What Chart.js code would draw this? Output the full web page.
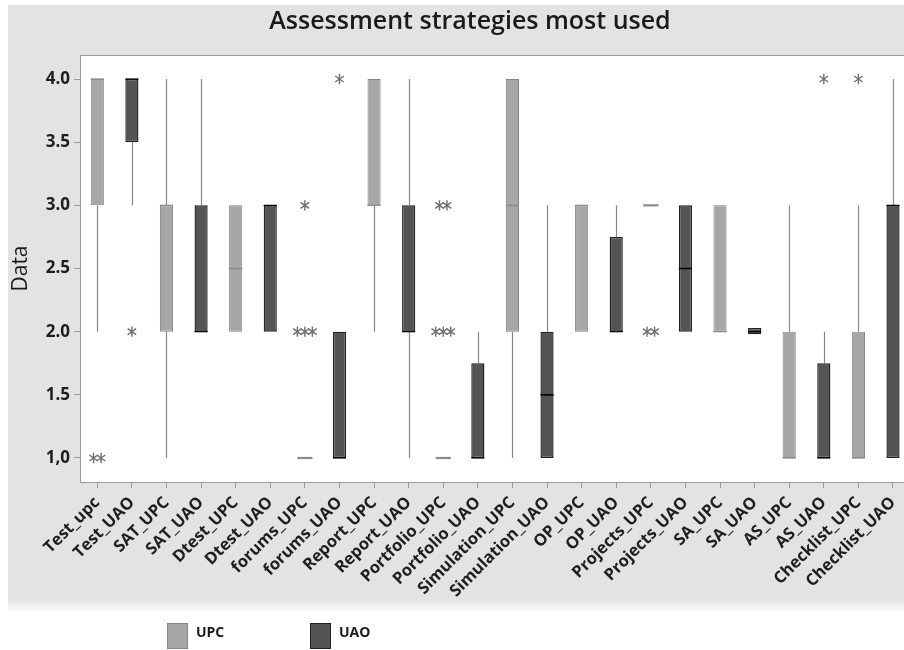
<!DOCTYPE html>
<html>
<head>
<meta charset="utf-8">
<title>Assessment strategies most used</title>
<script src="https://cdn.jsdelivr.net/npm/chart.js@4.4.0/dist/chart.umd.min.js"></script>
<style>
  html, body { margin: 0; padding: 0; background: #ffffff; overflow: hidden; }
  #wrap { position: relative; width: 912px; height: 650px; }
</style>
</head>
<body>
<div id="wrap"><canvas id="chart" width="912" height="650"></canvas></div>
<script>
// ---- data ----
const categories = [
  'Test_upc', 'Test_UAO', 'SAT_UPC', 'SAT_UAO', 'Dtest_UPC', 'Dtest_UAO',
  'forums_UPC', 'forums_UAO', 'Report_UPC', 'Report_UAO', 'Portfolio_UPC', 'Portfolio_UAO',
  'Simulation_UPC', 'Simulation_UAO', 'OP_UPC', 'OP_UAO', 'Projects_UPC', 'Projects_UAO',
  'SA_UPC', 'SA_UAO', 'AS_UPC', 'AS_UAO', 'Checklist_UPC', 'Checklist_UAO'
];
const groups = ['UPC', 'UAO'];

// quartiles, medians and whisker ends per category
const q1          = [3, 3.5, 2, 2, 2, 2, 1, 1, 3, 2, 1, 1, 2, 1, 2, 2, 3, 2, 2, 1.98, 1, 1, 1, 1];
const medians     = [4, 4,   3, 2, 2.5, 3, 1, 1, 3, 2, 1, 1, 3, 1.5, 3, 2, 3, 2.5, 2, 2, 1, 1, 1, 3];
const q3          = [4, 4,   3, 3, 3, 3, 1, 2, 4, 3, 1, 1.75, 4, 2, 3, 2.75, 3, 3, 3, 2.03, 2, 1.75, 2, 3];
const whiskerLow  = [2, 3,   1, 2, 2, 2, 1, 1, 2, 1, 1, 1, 1, 1, 2, 2, 3, 2, 2, 2, 1, 1, 1, 1];
const whiskerHigh = [4, 4,   4, 4, 3, 3, 1, 2, 4, 4, 1, 2, 4, 3, 3, 3, 3, 3, 3, 2, 3, 2, 3, 4];
const outliers    = [
  [1, 1], [2], [], [], [], [],
  [3, 2, 2, 2], [4], [], [], [3, 3, 2, 2, 2], [],
  [], [], [], [], [2, 2], [],
  [], [], [], [4], [4], []
];

const yTicks      = [1.0, 1.5, 2.0, 2.5, 3.0, 3.5, 4.0];
const yTickLabels = ['1,0', '1.5', '2.0', '2.5', '3.0', '3.5', '4.0'];

// ---- styling ----
const FONT = '"Open Sans", "Noto Sans", sans-serif';
const fills    = ['#a7a7a7', '#545454'];
const borders  = ['#858585', '#222222'];
const medianColors = ['#8a8a8a', '#000000'];
const groupOf = categories.map(c => c.toUpperCase().endsWith('UPC') ? 0 : 1);

const datasets = groups.map((g, gi) => ({
  label: g,
  data: categories.map((c, i) => groupOf[i] === gi ? [q1[i], q3[i]] : null),
  backgroundColor: fills[gi],
  borderColor: borders[gi],
  borderWidth: gi === 0 ? 1 : 1.4,
  borderSkipped: false,
  grouped: false,
  barPercentage: 0.38,
  categoryPercentage: 1
}));

function drawAsterisk(ctx, x, y, r) {
  ctx.beginPath();
  for (const deg of [90, 35, 145]) {
    const a = deg * Math.PI / 180;
    ctx.moveTo(x - r * Math.cos(a), y - r * Math.sin(a));
    ctx.lineTo(x + r * Math.cos(a), y + r * Math.sin(a));
  }
  ctx.stroke();
}

const boxPlotExtras = {
  id: 'boxPlotExtras',
  beforeDraw(chart) {
    const { ctx, chartArea } = chart;
    ctx.save();
    // grey panel behind the plot
    ctx.fillStyle = '#e3e3e3';
    ctx.fillRect(8, 5, chart.width - 8, 596);
    const fade = ctx.createLinearGradient(0, 600, 0, 612);
    fade.addColorStop(0, '#e3e3e3');
    fade.addColorStop(1, '#ffffff');
    ctx.fillStyle = fade;
    ctx.fillRect(8, 600, chart.width - 8, 12);
    // white plotting region
    ctx.fillStyle = '#ffffff';
    ctx.fillRect(chartArea.left, chartArea.top, chartArea.right - chartArea.left, chartArea.bottom - chartArea.top);
    ctx.strokeStyle = '#9a9a9a';
    ctx.lineWidth = 1;
    ctx.beginPath();
    ctx.moveTo(chartArea.left, chartArea.top + 0.5);
    ctx.lineTo(chartArea.right, chartArea.top + 0.5);
    ctx.stroke();
    ctx.restore();
  },
  beforeDatasetsDraw(chart) {
    // whiskers
    const { ctx, scales: { x, y } } = chart;
    ctx.save();
    ctx.strokeStyle = '#888888';
    ctx.lineWidth = 1.2;
    categories.forEach((c, i) => {
      const px = Math.round(x.getPixelForValue(i)) + 0.5;
      ctx.beginPath();
      if (whiskerLow[i] < q1[i]) {
        ctx.moveTo(px, y.getPixelForValue(whiskerLow[i]));
        ctx.lineTo(px, y.getPixelForValue(q1[i]));
      }
      if (whiskerHigh[i] > q3[i]) {
        ctx.moveTo(px, y.getPixelForValue(q3[i]));
        ctx.lineTo(px, y.getPixelForValue(whiskerHigh[i]));
      }
      ctx.stroke();
    });
    ctx.restore();
  },
  afterDatasetsDraw(chart) {
    const { ctx, scales: { x, y } } = chart;
    ctx.save();
    categories.forEach((c, i) => {
      const gi = groupOf[i];
      const bar = chart.getDatasetMeta(gi).data[i];
      const px = x.getPixelForValue(i);
      const flat = q1[i] === q3[i];
      const onEdge = !flat && (medians[i] === q1[i] || medians[i] === q3[i]);
      const half = bar.width / 2 + (flat ? 1 : 0);
      // median line
      const my = y.getPixelForValue(medians[i]);
      ctx.strokeStyle = medianColors[gi];
      ctx.lineWidth = flat ? 2.2 : (onEdge ? 1.2 : 1.6);
      ctx.beginPath();
      ctx.moveTo(px - half, my);
      ctx.lineTo(px + half, my);
      ctx.stroke();
      // outliers, repeated values spread sideways
      const counts = {};
      outliers[i].forEach(v => { counts[v] = (counts[v] || 0) + 1; });
      const seen = {};
      ctx.strokeStyle = '#707070';
      ctx.lineWidth = 1.4;
      outliers[i].forEach(v => {
        const k = seen[v] = (seen[v] || 0) + 1;
        const dx = (k - 1 - (counts[v] - 1) / 2) * 7.5;
        drawAsterisk(ctx, px + dx, y.getPixelForValue(v), 5.2);
      });
    });
    ctx.restore();
  },
  afterDraw(chart) {
    const { ctx } = chart;
    ctx.save();
    // title
    ctx.fillStyle = '#1a1a1a';
    ctx.font = '600 25px ' + FONT;
    ctx.textAlign = 'center';
    ctx.textBaseline = 'middle';
    ctx.fillText('Assessment strategies most used', 470, 22);
    // legend
    const items = chart.data.datasets;
    const xs = [167, 310];
    ctx.font = '700 14px ' + FONT;
    ctx.textAlign = 'left';
    items.forEach((ds, k) => {
      ctx.fillStyle = ds.backgroundColor;
      ctx.fillRect(xs[k], 623, 21, 26);
      ctx.strokeStyle = ds.borderColor;
      ctx.lineWidth = 1;
      ctx.strokeRect(xs[k] + 0.5, 623.5, 20, 25);
      ctx.fillStyle = '#1a1a1a';
      ctx.fillText(ds.label, xs[k] + 29, 633);
    });
    ctx.restore();
  }
};

new Chart(document.getElementById('chart'), {
  type: 'bar',
  data: { labels: categories, datasets },
  plugins: [boxPlotExtras],
  options: {
    responsive: false,
    animation: false,
    layout: { padding: { top: 55, left: 0, right: 0, bottom: 0 } },
    plugins: {
      legend: { display: false },
      title: { display: false },
      tooltip: { enabled: false }
    },
    scales: {
      x: {
        type: 'category',
        offset: true,
        grid: { drawOnChartArea: false, offset: false, tickLength: 6, color: '#9a9a9a' },
        border: { color: '#9a9a9a' },
        ticks: {
          autoSkip: false, minRotation: 45, maxRotation: 45, padding: 5,
          color: '#1e1e1e', font: { family: FONT, size: 16.5, weight: 'bold' }
        },
        afterFit(scale) { scale.height = 168; }
      },
      y: {
        min: 0.81,
        max: 4.19,
        afterBuildTicks(scale) { scale.ticks = yTicks.map(v => ({ value: v })); },
        grid: { drawOnChartArea: false, tickLength: 6, color: '#9a9a9a' },
        border: { color: '#9a9a9a' },
        ticks: {
          padding: 4, color: '#1e1e1e',
          font: { family: FONT, size: 17, weight: 'bold' },
          callback: v => yTickLabels[yTicks.indexOf(v)]
        },
        title: {
          display: true, text: 'Data', color: '#1a1a1a',
          font: { family: FONT, size: 21 }, padding: { top: 8, bottom: 0 }
        },
        afterFit(scale) { scale.width = 80; }
      }
    }
  }
});
</script>
</body>
</html>
